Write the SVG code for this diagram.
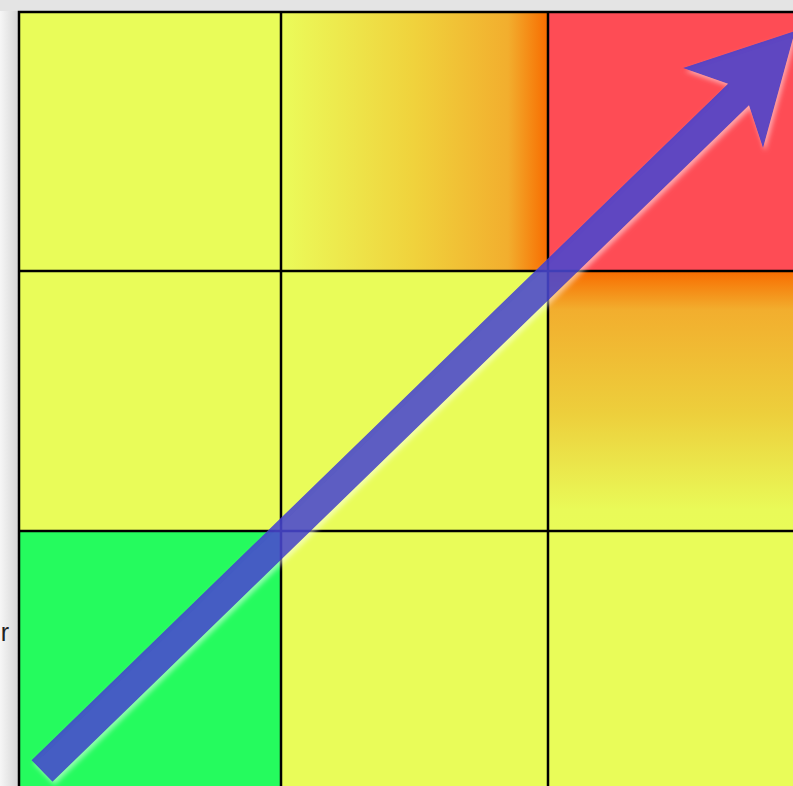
<svg xmlns="http://www.w3.org/2000/svg" width="793" height="786" viewBox="0 0 793 786">
  <defs>
    <linearGradient id="bgL" x1="0" y1="0" x2="1" y2="0">
      <stop offset="0" stop-color="#f6f6f6"/>
      <stop offset="1" stop-color="#d4d4d4"/>
    </linearGradient>
    <linearGradient id="gH" x1="0" y1="0" x2="1" y2="0">
      <stop offset="0" stop-color="#ebfb5a"/>
      <stop offset="0.5" stop-color="#f0d23c"/>
      <stop offset="0.85" stop-color="#f2ae2e"/>
      <stop offset="1" stop-color="#f86c00"/>
    </linearGradient>
    <linearGradient id="gV" x1="0" y1="0" x2="0" y2="1">
      <stop offset="0" stop-color="#f86c00"/>
      <stop offset="0.15" stop-color="#f2ae2e"/>
      <stop offset="0.55" stop-color="#edcf3c"/>
      <stop offset="0.92" stop-color="#e9fa58"/>
      <stop offset="1" stop-color="#e9fb58"/>
    </linearGradient>
    <filter id="glow" x="-10%" y="-10%" width="120%" height="120%">
      <feGaussianBlur in="SourceAlpha" stdDeviation="2.5" result="b"/>
      <feOffset dx="2" dy="3" in="b" result="o"/>
      <feComposite in="o" in2="SourceAlpha" operator="out" result="o2"/>
      <feFlood flood-color="#ffffff" flood-opacity="0.6"/>
      <feComposite in2="o2" operator="in" result="s"/>
      <feMerge><feMergeNode in="s"/><feMergeNode in="SourceGraphic"/></feMerge>
    </filter>
    <style>
      .cell{stroke:none}
      .grid{stroke:#000;stroke-width:2.5;fill:none}
      .yel{fill:#e9fc59}
      .lbl{font-family:"Liberation Sans",Arial,sans-serif;font-size:25px;fill:#222}
      .arrow{fill:#4441d0;fill-opacity:0.87}
    </style>
  </defs>
  <rect x="0" y="0" width="793" height="786" fill="#f0f0f0"/>
  <rect x="0" y="0" width="19" height="786" fill="url(#bgL)"/>
  <rect x="0" y="0" width="793" height="11" fill="#e4e4e4"/>
  <text class="lbl" x="9" y="641" text-anchor="end">r</text>
  <g id="cells">
    <rect id="c11" class="cell yel" x="19" y="12" width="262" height="259"/>
    <rect id="c12" class="cell" x="281" y="12" width="267" height="259" fill="url(#gH)"/>
    <rect id="c13" class="cell" x="548" y="12" width="250" height="259" fill="#fe4c55"/>
    <rect id="c21" class="cell yel" x="19" y="271" width="262" height="260"/>
    <rect id="c22" class="cell yel" x="281" y="271" width="267" height="260"/>
    <rect id="c23" class="cell" x="548" y="271" width="250" height="260" fill="url(#gV)"/>
    <rect id="c31" class="cell" x="19" y="531" width="262" height="260" fill="#25fb5e"/>
    <rect id="c32" class="cell yel" x="281" y="531" width="267" height="260"/>
    <rect id="c33" class="cell yel" x="548" y="531" width="250" height="260"/>
  </g>
  <g id="gridlines" class="grid">
    <path d="M19 800V12H800"/>
    <path d="M281 12V800M548 12V800M19 271H800M19 531H800"/>
  </g>
  <g id="connectors" filter="url(#glow)">
    <path class="arrow" d="M31.5 760.2L728 83.7L683 68L795 31L763 148L749 105.3L52.5 781.8Z"/>
  </g>
</svg>
